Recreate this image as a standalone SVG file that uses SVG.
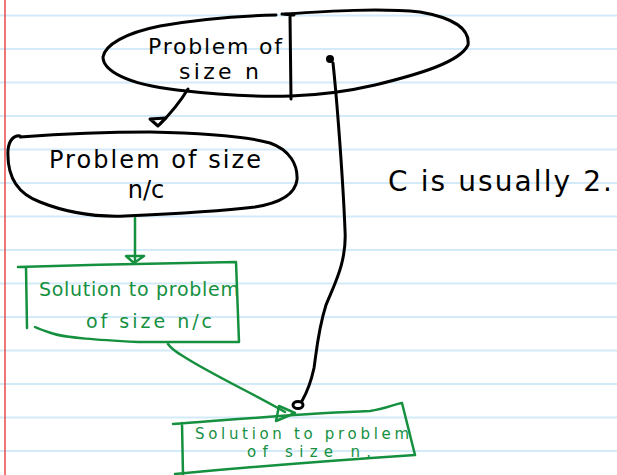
<svg xmlns="http://www.w3.org/2000/svg" width="617" height="475" viewBox="0 0 617 475">
<style>
.rule{stroke:#d3ebf8;stroke-width:2}
.ink{fill:none;stroke:#000;stroke-width:3;stroke-linecap:round;stroke-linejoin:round}
.gink{fill:none;stroke:#15903f;stroke-width:2.5;stroke-linecap:round;stroke-linejoin:round}
.t{font-family:"DejaVu Sans","Liberation Sans",sans-serif;font-size:22px;fill:#000;text-anchor:middle}
.gt{fill:#15903f;font-size:19px}
.sm{font-size:15px}
.big{font-size:28px}
.mid{font-size:24px}
</style>
<rect width="617" height="475" fill="#fff"/>
<g id="paper">
<line class="rule" x1="0" y1="15.5" x2="617" y2="15.5"/>
<line class="rule" x1="0" y1="49" x2="617" y2="49"/>
<line class="rule" x1="0" y1="82.5" x2="617" y2="82.5"/>
<line class="rule" x1="0" y1="116" x2="617" y2="116"/>
<line class="rule" x1="0" y1="149.5" x2="617" y2="149.5"/>
<line class="rule" x1="0" y1="183" x2="617" y2="183"/>
<line class="rule" x1="0" y1="216.5" x2="617" y2="216.5"/>
<line class="rule" x1="0" y1="250" x2="617" y2="250"/>
<line class="rule" x1="0" y1="283.5" x2="617" y2="283.5"/>
<line class="rule" x1="0" y1="317" x2="617" y2="317"/>
<line class="rule" x1="0" y1="350.5" x2="617" y2="350.5"/>
<line class="rule" x1="0" y1="384" x2="617" y2="384"/>
<line class="rule" x1="0" y1="417.5" x2="617" y2="417.5"/>
<line class="rule" x1="0" y1="451" x2="617" y2="451"/>
<line x1="5" y1="0" x2="5" y2="475" stroke="#e8494c" stroke-width="1.5"/>
</g>
<g id="problem-n">
<path class="ink" d="M276,15 C240,16 200,19 160,26 C125,33 105,45 103,57 C103,70 125,84 177,90 C220,95 260,97 291,96 C320,95 345,92 375,85 C420,74 460,62 468,45 C470,30 455,18 420,12 C380,8 330,11 285,14"/>
<path class="ink" d="M282,14 L294,15 M290,15 L291,99"/>
<text class="t" x="215" y="54" textLength="134" lengthAdjust="spacing">Problem of</text>
<text class="t" x="219" y="79" textLength="80" lengthAdjust="spacing">size n</text>
</g>
<g id="problem-nc">
<path class="ink" d="M20,136 C14,135 9,140 8,150 C7,170 12,192 40,202 C70,214 100,217 125,216 C170,214 230,210 255,207 C280,203 295,195 297,180 C298,165 290,150 270,143 C245,136 200,133 150,132 C100,132 60,134 20,137"/>
<text class="t mid" x="155" y="168" textLength="212" lengthAdjust="spacing">Problem of size</text>
<text class="t mid" x="146" y="198">n/c</text>
</g>
<g id="note">
<text class="t big" x="500" y="191" textLength="224" lengthAdjust="spacing">C is usually 2.</text>
</g>
<g id="solution-nc">
<path class="gink" d="M18,267 C90,265 170,263 236,262 L239,342 C200,342 160,342 138,342 C100,340 65,338 51,333 C42,330 37,328 35,327 M26,267 L27,328"/>
<text class="t gt" x="139" y="296" textLength="200" lengthAdjust="spacing">Solution to problem</text>
<text class="t gt" x="149" y="328" textLength="126" lengthAdjust="spacing">of size n/c</text>
</g>
<g id="solution-n">
<path class="gink" d="M173,424 C240,419 310,413 370,411 C385,409 395,404 402,403 L415,455 C340,460 250,467 175,474 M182,423 L183,475"/>
<text class="t gt sm" x="302" y="439" textLength="214" lengthAdjust="spacing">Solution to problem</text>
<text class="t gt sm" x="309" y="457" textLength="124" lengthAdjust="spacing">of size n.</text>
</g>
<g id="connectors">
<path class="ink" d="M188,89 C180,102 170,114 160,124"/>
<path class="ink" d="M150,119 L166,118 L158,126 Z"/>
<path class="ink" d="M333,63 C337,100 343,180 345,230 C347,262 334,285 326,305 C318,330 316,355 314,368 C311,382 306,394 302,401"/>
<circle cx="330" cy="59" r="4" fill="#000"/>
<ellipse cx="298" cy="405" rx="5" ry="3.5" class="ink"/>
<path class="gink" d="M135,218 L135,262"/>
<path class="gink" d="M126,256 L144,256 L134,263 Z"/>
<path class="gink" d="M168,344 C172,350 178,353 186,358 C215,376 250,392 285,412"/>
<path class="gink" d="M279,406 L276,421 L295,413 Z"/>
</g>
</svg>
